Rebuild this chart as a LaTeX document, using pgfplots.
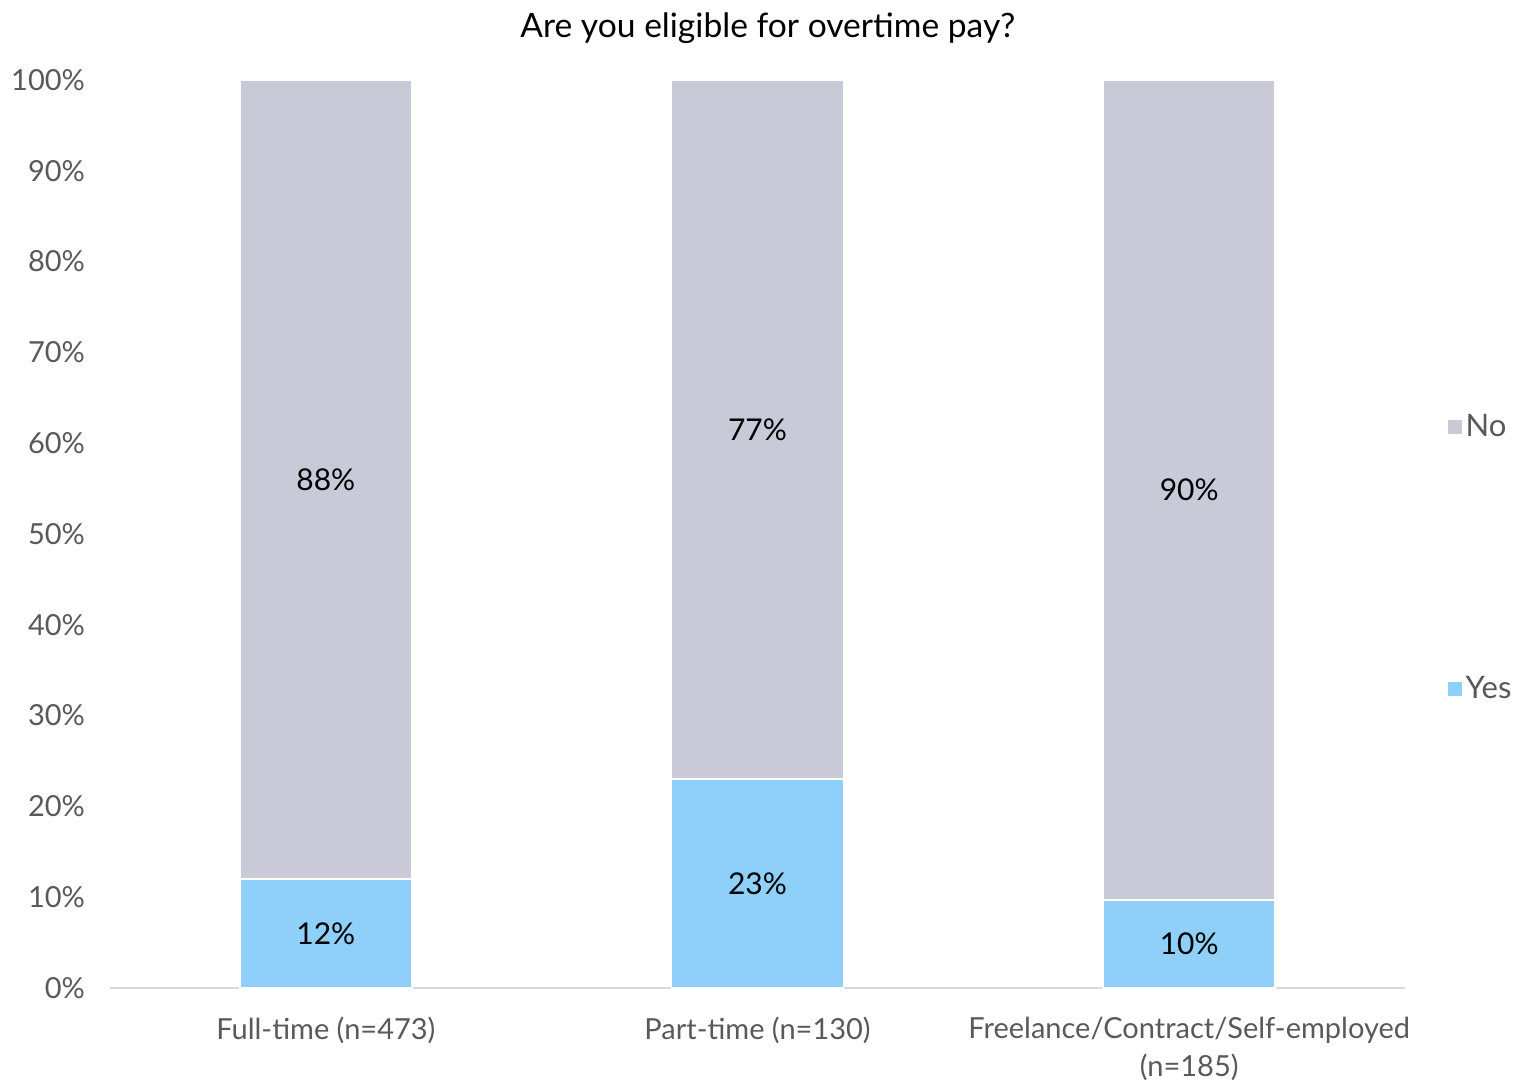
\documentclass[border=0pt]{standalone}
\usepackage{pgfplots}
\pgfplotsset{compat=1.18}
\usepackage{fontspec}
\setmainfont{Lato}
\definecolor{nocol}{HTML}{C9C9D8}
\definecolor{yescol}{HTML}{8FD0FA}
\definecolor{axgray}{HTML}{D9D9D9}
\definecolor{txtgray}{HTML}{595959}
\begin{document}
\begin{tikzpicture}
\useasboundingbox (-55pt,-47pt) rectangle (707pt,494pt);
\pgfplotsset{base/.style={width=647.5pt,height=454pt,scale only axis,
  xmin=-0.5,xmax=2.5,ymin=0,ymax=100, at={(0,0)}, anchor=south west}}
\begin{axis}[base, ybar stacked, bar width=86pt,
  /pgf/number format/assume math mode=true,
  axis x line*=bottom, axis y line*=left,
  y axis line style={draw=none},
  x axis line style={axgray, line width=1pt},
  ytick={0,10,...,100},
  yticklabel={\pgfmathprintnumber{\tick}\%},
  ytick style={draw=none},
  y tick label style={font=\fontsize{14.5}{16}\selectfont, text=txtgray, xshift=-9pt},
  xtick={0,1,2},
  xticklabels={Full-time (n=473), Part-time (n=130), {Freelance/Contract/Self-employed\\(n=185)}},
  x tick label style={align=center, font=\fontsize{14.5}{19}\selectfont, text=txtgray, yshift=-11pt},
  xtick style={draw=none},
  extra x ticks={-0.5,0.5,1.5,2.5},
  extra x tick labels={},
  extra x tick style={tick align=outside, major tick length=4.5pt, tick style={axgray, line width=1pt}},
  title={Are you eligible for overtime pay?},
  title style={font=\fontsize{16.8}{20}\selectfont, at={(0.508,1)}, anchor=center, yshift=20pt},
  reverse legend,
  legend style={draw=none, at={(1.028,0.4736)}, anchor=west, row sep=114.5pt,
    font=\fontsize{15.5}{17}\selectfont, text=txtgray},
  legend cell align=left,
  legend image code/.code={\fill[#1, draw=none] (0pt,-3.5pt) rectangle (7pt,3.5pt);},
]
\addplot[fill=yescol, draw=white, line width=0.8pt] coordinates {(0,12) (1,23) (2,9.7)};
\addlegendentry{Yes}
\addplot[fill=nocol, draw=white, line width=0.8pt] coordinates {(0,88) (1,77) (2,90.3)};
\addlegendentry{No}
\end{axis}
\begin{axis}[base, hide axis]
\addplot[draw=none, nodes near coords, point meta=explicit symbolic,
  nodes near coords style={anchor=center, font=\fontsize{15}{17}\selectfont, text=black}]
  coordinates {(0,6)[12\%] (0,56)[88\%] (1,11.5)[23\%] (1,61.5)[77\%] (2,4.85)[10\%] (2,54.85)[90\%]};
\end{axis}
\end{tikzpicture}
\end{document}
